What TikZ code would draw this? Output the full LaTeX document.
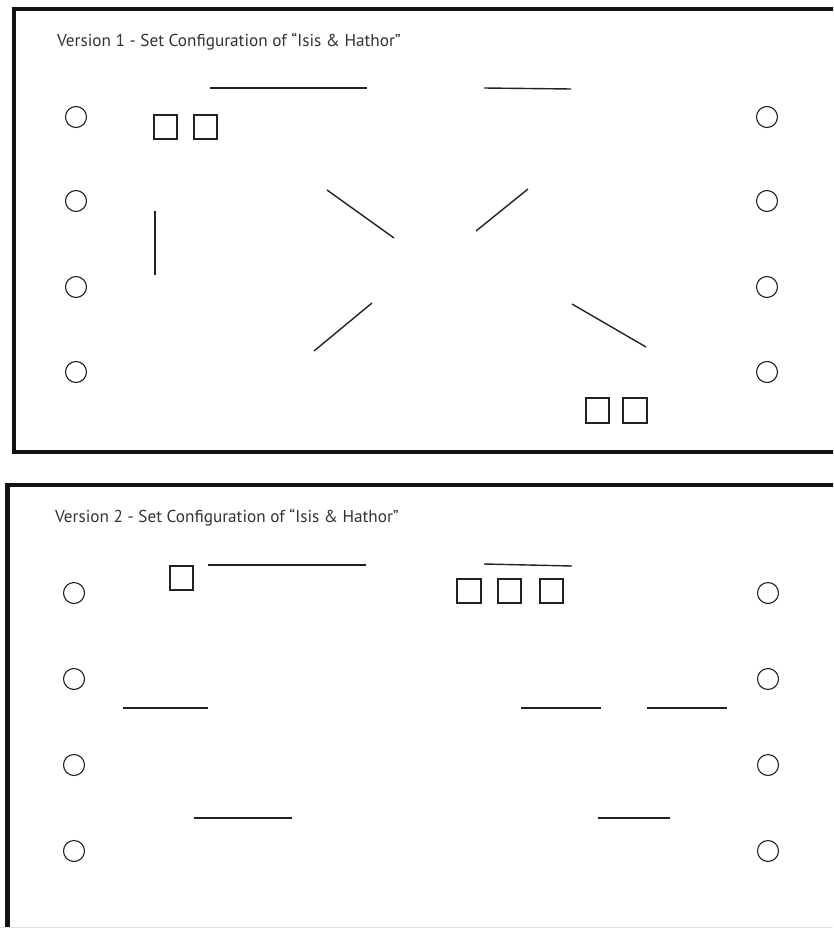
\documentclass[tikz,border=0pt]{standalone}
\usepackage{fontspec}
\setmainfont{PT Sans}
\definecolor{ink}{HTML}{222222}
\definecolor{txt}{HTML}{333333}
\begin{document}
\begin{tikzpicture}[x=1pt,y=-1pt,
  frame/.style={line width=4.4pt,draw=black!93},
  seat/.style={draw=ink,line width=1.1pt},
  box/.style={draw=ink,line width=1.2pt},
  bar/.style={draw=ink,line width=1.4pt},
  title/.style={anchor=base west,text=txt,font=\fontsize{17.2}{19}\selectfont,inner sep=0pt}]
\useasboundingbox (0,0) rectangle (833,928);
\clip (0,0) rectangle (833,928);
\fill[white] (0,0) rectangle (833,928);
% ---------- Version 1 ----------
\draw[frame] (850,9) -- (14,9) -- (14,452) -- (850,452);
\node[title] (t1) at (57,47) {Version 1 - Set Configuration of “Isis \& Hathor”};
\foreach \yy in {117,201,287,372}{
  \draw[seat] (76,\yy) circle (10.5);
  \draw[seat] (767,\yy) circle (10.5);
}
\draw[box] (154,115) rectangle (177,139);
\draw[box] (194,115) rectangle (217,139);
\draw[box] (586,398) rectangle (609,423);
\draw[box] (623,398) rectangle (647,423);
\draw[bar] (210,88) -- (367,88);
\draw[bar] (484,88) -- (571,89);
\draw[bar] (155,211) -- (155,275);
\draw[bar] (327,190) -- (394,238);
\draw[bar] (528,189) -- (476,231);
\draw[bar] (372,303) -- (314,351);
\draw[bar] (572,304) -- (646,347);
% ---------- Version 2 ----------
\draw[frame] (850,485) -- (7.5,485) -- (7.5,940);
\node[title] (t2) at (55,522) {Version 2 - Set Configuration of “Isis \& Hathor”};
\foreach \yy in {593,679,765,851}{
  \draw[seat] (74,\yy) circle (10.5);
  \draw[seat] (768,\yy) circle (10.5);
}
\draw[box] (170,566) rectangle (193,590);
\draw[box] (457,579) rectangle (481,603);
\draw[box] (498,579) rectangle (521,603);
\draw[box] (540,579) rectangle (563,603);
\draw[bar] (208,565) -- (366,565);
\draw[bar] (484,564) -- (572,566);
\draw[bar] (123,708) -- (208,708);
\draw[bar] (521,708) -- (601,708);
\draw[bar] (647,708) -- (727,708);
\draw[bar] (194,818) -- (292,818);
\draw[bar] (598,818) -- (670,818);
\draw[black!12,line width=1pt] (0,927.5) -- (833,927.5);
\end{tikzpicture}
\end{document}
